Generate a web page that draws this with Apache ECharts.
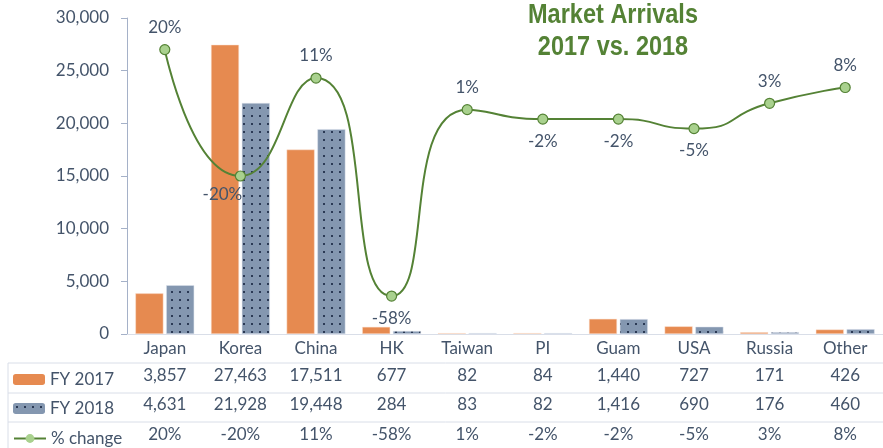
<!DOCTYPE html>
<html>
<head>
<meta charset="utf-8">
<script src="https://cdn.jsdelivr.net/npm/echarts@6/dist/echarts.min.js"></script>
<style>
  html, body { margin: 0; padding: 0; background: #fff; }
  #chart { width: 883px; height: 448px; }
</style>
</head>
<body>
<div id="chart"></div>
<script>
  const categories = ['Japan', 'Korea', 'China', 'HK', 'Taiwan', 'PI', 'Guam', 'USA', 'Russia', 'Other'];
  const fy2017 = [3857, 27463, 17511, 677, 82, 84, 1440, 727, 171, 426];
  const fy2018 = [4631, 21928, 19448, 284, 83, 82, 1416, 690, 176, 460];
  const pctChange = [20, -20, 11, -58, 1, -2, -2, -5, 3, 8];
  const pctLabelPos = ['top', 'bottom', 'top', 'bottom', 'top', 'bottom', 'bottom', 'bottom', 'top', 'top'];
  const yTicks = [0, 5000, 10000, 15000, 20000, 25000, 30000];

  const textColor = '#44546a';
  const tableLine = '#d9dee8';
  const font = 'Lato, "Open Sans", sans-serif';
  const fs = 17;
  const fmt = (v) => v.toLocaleString('en-US');

  // dotted fill for FY 2018
  const makeDots = () => {
    const c = document.createElement('canvas');
    c.width = 8;
    c.height = 8;
    const ctx = c.getContext('2d');
    ctx.fillStyle = '#8497b0';
    ctx.fillRect(0, 0, 8, 8);
    ctx.fillStyle = '#2b3a55';
    ctx.fillRect(3, 3, 2, 2);
    return c;
  };

  const chart = echarts.init(document.getElementById('chart'));

  const rowAxis = (offset, values, fmtFn) => ({
    type: 'category',
    data: categories,
    position: 'bottom',
    offset,
    axisLine: { show: false },
    axisTick: { show: false },
    axisLabel: {
      margin: 8,
      fontSize: fs,
      fontFamily: font,
      color: textColor,
      formatter: (val, i) => fmtFn(values[i]),
    },
  });

  const hLine = (y) => ({
    type: 'line',
    shape: { x1: 8, y1: y, x2: 883, y2: y },
    style: { stroke: tableLine, lineWidth: 1 },
    silent: true,
  });

  const legendBase = {
    orient: 'vertical',
    left: 8,
    itemWidth: 32,
    itemHeight: 11,
    itemStyle: { borderWidth: 0 },
    textStyle: { fontSize: fs, fontFamily: font, color: textColor },
  };

  chart.setOption({
    animation: false,
    legend: [
      { ...legendBase, top: 366, data: ['FY 2017'] },
      { ...legendBase, top: 395, data: ['FY 2018'] },
      { ...legendBase, top: 425, data: ['% change'] },
    ],
    grid: { left: 127, right: 0, top: 18, bottom: 114 },
    xAxis: [
      {
        type: 'category',
        data: categories,
        position: 'bottom',
        axisLine: { lineStyle: { color: tableLine } },
        axisTick: { length: 114, lineStyle: { color: tableLine } },
        axisLabel: { margin: 6, fontSize: fs, fontFamily: font, color: textColor },
      },
      rowAxis(25, fy2017, fmt),
      rowAxis(54, fy2018, fmt),
      rowAxis(84, pctChange, (v) => v + '%'),
    ],
    yAxis: [
      {
        type: 'value',
        min: 0,
        max: 30000,
        interval: 5000,
        splitLine: { show: false },
        axisLine: { show: true, lineStyle: { color: '#a5b1c8' } },
        axisTick: { show: true, length: 6, lineStyle: { color: '#a5b1c8' } },
        axisLabel: {
          margin: 18,
          fontSize: fs,
          fontFamily: font,
          color: textColor,
          formatter: (v) => (yTicks.includes(v) ? fmt(v) : ''),
        },
      },
      { type: 'value', min: -70, max: 30, show: false, splitLine: { show: false } },
    ],
    graphic: [
      hLine(363),
      hLine(393),
      hLine(422),
      {
        type: 'line',
        shape: { x1: 8, y1: 363, x2: 8, y2: 448 },
        style: { stroke: tableLine, lineWidth: 1 },
        silent: true,
      },
      {
        type: 'text',
        x: 613,
        y: -1,
        scaleX: 0.84,
        style: {
          text: 'Market Arrivals\n2017 vs. 2018',
          align: 'center',
          verticalAlign: 'top',
          font: 'bold 28px "Liberation Sans", Arial, sans-serif',
          lineHeight: 32,
          fill: '#548235',
        },
      },
    ],
    series: [
      {
        name: 'FY 2017',
        type: 'bar',
        data: fy2017,
        barWidth: 28,
        barGap: '10%',
        itemStyle: { color: '#e68a50', borderColor: '#fbe3d4', borderWidth: 0.5 },
      },
      {
        name: 'FY 2018',
        type: 'bar',
        data: fy2018,
        barWidth: 28,
        itemStyle: {
          color: { image: makeDots(), repeat: 'repeat' },
          borderColor: '#dfe5ee',
          borderWidth: 0.5,
        },
      },
      {
        name: '% change',
        type: 'line',
        yAxisIndex: 1,
        smooth: 0.6,
        symbol: 'circle',
        symbolSize: 10,
        lineStyle: { color: '#548235', width: 2 },
        itemStyle: { color: '#a9d18e', borderColor: '#548235', borderWidth: 1.2 },
        data: pctChange.map((v, i) => ({
          value: v,
          label: {
            position: pctLabelPos[i],
            offset: i === 1 ? [-18, -4] : [0, 0],
          },
        })),
        label: {
          show: true,
          distance: 8,
          fontSize: fs,
          fontFamily: font,
          color: textColor,
          formatter: (p) => p.value + '%',
        },
        z: 5,
      },
    ],
  });
</script>
</body>
</html>
